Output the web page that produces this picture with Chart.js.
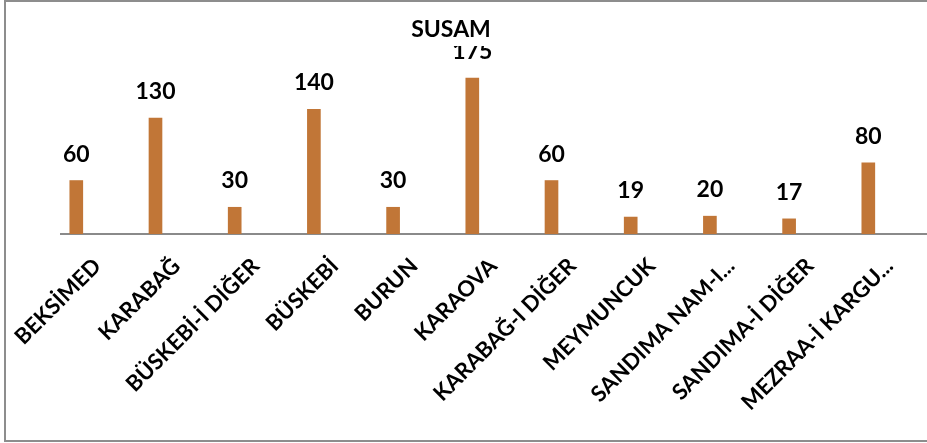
<!DOCTYPE html>
<html>
<head>
<meta charset="utf-8">
<script src="https://cdn.jsdelivr.net/npm/chart.js@4/dist/chart.umd.min.js"></script>
<style>
    html, body { margin: 0; padding: 0; background: #fff; overflow: hidden; }
    #wrap { position: relative; width: 927px; height: 443px; }
    #frame {
        position: absolute; left: 4px; top: 0; width: 960px; height: 442px;
        box-sizing: border-box; border: 2px solid #8d8d8d; border-right: none;
        pointer-events: none;
    }
    canvas { position: absolute; left: 0; top: 0; }
</style>
</head>
<body>
<div id="wrap">
    <canvas id="chart" width="927" height="443"></canvas>
    <div id="frame"></div>
</div>
<script>
// chart data
const chartTitle = 'SUSAM';
const categories = [
    'BEKSİMED', 'KARABAĞ', 'BÜSKEBİ-İ DİĞER', 'BÜSKEBİ', 'BURUN', 'KARAOVA',
    'KARABAĞ-I DİĞER', 'MEYMUNCUK', 'SANDIMA NAM-I...', 'SANDIMA-İ DİĞER', 'MEZRAA-İ KARGU...'
];
const values = [60, 130, 30, 140, 30, 175, 60, 19, 20, 17, 80];

const barColor = '#c17637';
const fontFamily = 'Lato, "Open Sans", sans-serif';

// value labels above each bar, clipped to the plot area
const valueLabels = {
    id: 'valueLabels',
    afterDatasetsDraw(chart) {
        const ctx = chart.ctx;
        const area = chart.chartArea;
        const meta = chart.getDatasetMeta(0);
        ctx.save();
        ctx.beginPath();
        ctx.rect(0, area.top, chart.width, area.bottom - area.top);
        ctx.clip();
        ctx.fillStyle = '#000';
        ctx.font = 'bold 23px ' + fontFamily;
        ctx.textAlign = 'center';
        ctx.textBaseline = 'alphabetic';
        meta.data.forEach((bar, i) => {
            ctx.fillText(String(values[i]), bar.x, bar.y - 19);
        });
        ctx.restore();
    }
};

// title text box
const titleBox = {
    id: 'titleBox',
    afterDraw(chart) {
        const ctx = chart.ctx;
        ctx.save();
        ctx.fillStyle = '#000';
        ctx.font = 'bold 23px ' + fontFamily;
        ctx.textAlign = 'center';
        ctx.textBaseline = 'middle';
        ctx.fillText(chartTitle, 451, 30);
        ctx.restore();
    }
};

new Chart(document.getElementById('chart'), {
    type: 'bar',
    data: {
        datasets: [{
            label: chartTitle,
            data: values.map((v, i) => ({ x: i, y: v })),
            backgroundColor: barColor,
            borderWidth: 0,
            barThickness: 13
        }]
    },
    options: {
        responsive: false,
        animation: false,
        devicePixelRatio: 1,
        layout: { padding: { left: 61, right: 0, top: 46, bottom: 0 } },
        scales: {
            x: {
                type: 'linear',
                offset: false,
                min: -0.193,
                max: 10.741,
                grid: { display: false, drawTicks: false },
                border: { display: true, color: '#8a8a8a', width: 2 },
                afterBuildTicks: s => { s.ticks = categories.map((c, i) => ({ value: i })); },
                afterFit: s => { s.height = 209; s.paddingLeft = 0; s.paddingRight = 0; },
                ticks: {
                    autoSkip: false,
                    minRotation: 45,
                    maxRotation: 45,
                    padding: 19,
                    labelOffset: 21,
                    color: '#000',
                    font: { family: fontFamily, size: 22, weight: 'bold' },
                    callback: v => categories[v]
                }
            },
            y: {
                display: false,
                min: 0,
                max: 211
            }
        },
        plugins: {
            legend: { display: false },
            title: { display: false },
            tooltip: { enabled: false }
        }
    },
    plugins: [valueLabels, titleBox]
});
</script>
</body>
</html>
